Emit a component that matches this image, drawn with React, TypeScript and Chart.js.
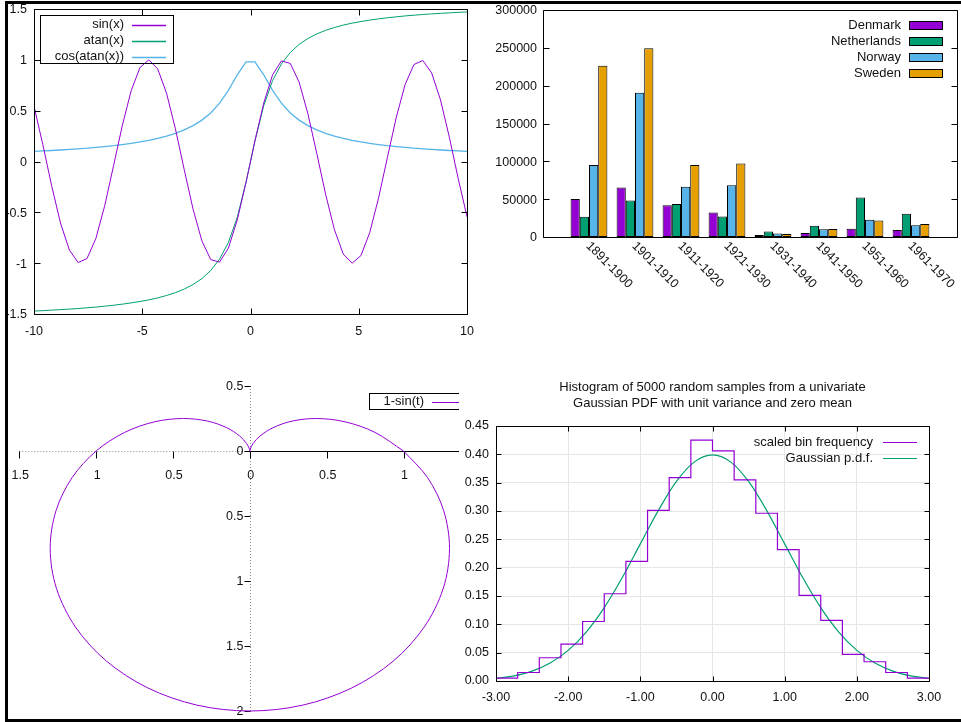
import React, { useEffect, useRef } from 'react';
import { Chart, registerables } from 'chart.js';

Chart.register(...registerables);

const FONT = '"Liberation Sans", Arial, Helvetica, sans-serif';
const TEXT = '#111111';
const PURPLE = '#9400d3';
const GREEN = '#009e73';
const SKY = '#56b4e9';
const ORANGE = '#e69f00';
const TICK_FONT = { family: FONT, size: 12.5 };
const KEY_FONT = `13px ${FONT}`;

// ---------- Panel 1: function plots (50 samples over [-10, 10]) ----------
const fnX = [-10, -9.592, -9.184, -8.776, -8.367, -7.959, -7.551, -7.143, -6.735, -6.327, -5.918, -5.51, -5.102, -4.694, -4.286, -3.878, -3.469, -3.061, -2.653, -2.245, -1.837, -1.429, -1.02, -0.612, -0.204, 0.204, 0.612, 1.02, 1.429, 1.837, 2.245, 2.653, 3.061, 3.469, 3.878, 4.286, 4.694, 5.102, 5.51, 5.918, 6.327, 6.735, 7.143, 7.551, 7.959, 8.367, 8.776, 9.184, 9.592, 10];
const sinY = [0.544, 0.166, -0.239, -0.605, -0.871, -0.994, -0.954, -0.758, -0.436, -0.043, 0.357, 0.698, 0.925, 1.0, 0.911, 0.672, 0.322, -0.08, -0.469, -0.781, -0.965, -0.99, -0.852, -0.575, -0.203, 0.203, 0.575, 0.852, 0.99, 0.965, 0.781, 0.469, 0.08, -0.322, -0.672, -0.911, -1.0, -0.925, -0.698, -0.357, 0.043, 0.436, 0.758, 0.954, 0.994, 0.871, 0.605, 0.239, -0.166, -0.544];
const atanY = [-1.471, -1.467, -1.462, -1.457, -1.452, -1.446, -1.439, -1.432, -1.423, -1.414, -1.403, -1.391, -1.377, -1.361, -1.342, -1.318, -1.29, -1.255, -1.21, -1.152, -1.072, -0.96, -0.796, -0.549, -0.201, 0.201, 0.549, 0.796, 0.96, 1.072, 1.152, 1.21, 1.255, 1.29, 1.318, 1.342, 1.361, 1.377, 1.391, 1.403, 1.414, 1.423, 1.432, 1.439, 1.446, 1.452, 1.457, 1.462, 1.467, 1.471];
const cosAtanY = [0.1, 0.104, 0.108, 0.113, 0.119, 0.125, 0.131, 0.139, 0.147, 0.156, 0.167, 0.179, 0.192, 0.208, 0.227, 0.25, 0.277, 0.311, 0.353, 0.407, 0.478, 0.574, 0.7, 0.853, 0.98, 0.98, 0.853, 0.7, 0.574, 0.478, 0.407, 0.353, 0.311, 0.277, 0.25, 0.227, 0.208, 0.192, 0.179, 0.167, 0.156, 0.147, 0.139, 0.131, 0.125, 0.119, 0.113, 0.108, 0.104, 0.1];
const fnLabels = ['sin(x)', 'atan(x)', 'cos(atan(x))'];

// ---------- Panel 2: immigration by decade ----------
const decades = ['1891-1900', '1901-1910', '1911-1920', '1921-1930', '1931-1940', '1941-1950', '1951-1960', '1961-1970'];
const denmark = [50231, 65285, 41983, 32430, 2559, 5393, 10984, 9201];
const netherlands = [26758, 48262, 43718, 26948, 7150, 14860, 52277, 30606];
const norway = [95015, 190505, 66395, 68531, 4740, 10100, 22935, 15484];
const sweden = [226266, 249534, 95074, 97249, 3960, 10665, 21697, 17116];

// ---------- Panel 3: polar cardioid r = 1 - sin(t), sampled every 10 degrees ----------
const cardioidX = [1, 0.8138, 0.6183, 0.433, 0.2736, 0.1504, 0.067, 0.0206, 0.0026, 0, -0.0026, -0.0206, -0.067, -0.1504, -0.2736, -0.433, -0.6183, -0.8138, -1, -1.1558, -1.2611, -1.299, -1.2585, -1.1352, -0.933, -0.6634, -0.3447, 0, 0.3447, 0.6634, 0.933, 1.1352, 1.2585, 1.299, 1.2611, 1.1558, 1];
const cardioidY = [0, 0.1435, 0.225, 0.25, 0.2296, 0.1792, 0.116, 0.0567, 0.015, 0, 0.015, 0.0567, 0.116, 0.1792, 0.2296, 0.25, 0.225, 0.1435, 0, -0.2038, -0.459, -0.75, -1.056, -1.3529, -1.616, -1.8227, -1.9547, -2, -1.9547, -1.8227, -1.616, -1.3529, -1.056, -0.75, -0.459, -0.2038, 0];
const polarXTicks = [-1.5, -1, -0.5, 0, 0.5, 1, 1.5];
const polarYTicks = [0.5, 0, -0.5, -1, -1.5, -2];

// ---------- Panel 4: histogram + Gaussian pdf ----------
const binEdges = [-3, -2.7, -2.4, -2.1, -1.8, -1.5, -1.2, -0.9, -0.6, -0.3, 0, 0.3, 0.6, 0.9, 1.2, 1.5, 1.8, 2.1, 2.4, 2.7, 3];
const binHeights = [0.005, 0.015, 0.041, 0.065, 0.105, 0.154, 0.211, 0.301, 0.359, 0.425, 0.406, 0.355, 0.296, 0.232, 0.151, 0.107, 0.047, 0.034, 0.015, 0.005];
const gaussX = [-3, -2.75, -2.5, -2.25, -2, -1.75, -1.5, -1.25, -1, -0.75, -0.5, -0.25, 0, 0.25, 0.5, 0.75, 1, 1.25, 1.5, 1.75, 2, 2.25, 2.5, 2.75, 3];
const gaussY = [0.0044, 0.0091, 0.0175, 0.0317, 0.054, 0.0863, 0.1295, 0.1826, 0.242, 0.3011, 0.3521, 0.3867, 0.3989, 0.3867, 0.3521, 0.3011, 0.242, 0.1826, 0.1295, 0.0863, 0.054, 0.0317, 0.0175, 0.0091, 0.0044];
const histTitle = ['Histogram of 5000 random samples from a univariate', 'Gaussian PDF with unit variance and zero mean'];

// ---------- helpers ----------
function drawBox(chart: any, len: number, xTicks: boolean, yTicks: boolean) {
  const { ctx, chartArea: a, scales } = chart;
  const L = Math.round(a.left) + 0.5, R = Math.round(a.right) + 0.5;
  const T = Math.round(a.top) + 0.5, B = Math.round(a.bottom) + 0.5;
  ctx.save();
  ctx.strokeStyle = '#000';
  ctx.lineWidth = 1;
  ctx.beginPath();
  ctx.rect(L, T, R - L, B - T);
  if (xTicks) {
    for (const t of scales.x.ticks) {
      const p = Math.round(scales.x.getPixelForValue(t.value)) + 0.5;
      ctx.moveTo(p, T); ctx.lineTo(p, T + len);
      ctx.moveTo(p, B); ctx.lineTo(p, B - len);
    }
  }
  if (yTicks) {
    for (const t of scales.y.ticks) {
      const p = Math.round(scales.y.getPixelForValue(t.value)) + 0.5;
      ctx.moveTo(L, p); ctx.lineTo(L + len, p);
      ctx.moveTo(R, p); ctx.lineTo(R - len, p);
    }
  }
  ctx.stroke();
  ctx.restore();
}

type KeyEntry = { label: string; color: string; box?: boolean; width?: number };
function drawKey(ctx: any, entries: KeyEntry[], textRight: number, sL: number, sR: number, y0: number, dy: number, boxH = 8) {
  entries.forEach((e, i) => {
    const y = y0 + i * dy;
    ctx.save();
    ctx.font = KEY_FONT;
    ctx.textAlign = 'right';
    ctx.textBaseline = 'middle';
    ctx.fillStyle = TEXT;
    ctx.fillText(e.label, textRight, y);
    ctx.restore();
    ctx.save();
    if (e.box) {
      const ry = Math.round(y - boxH / 2);
      ctx.fillStyle = e.color;
      ctx.fillRect(sL, ry, sR - sL, boxH);
      ctx.strokeStyle = '#000000';
      ctx.lineWidth = 1;
      ctx.strokeRect(sL + 0.5, ry + 0.5, sR - sL - 1, boxH - 1);
    } else {
      ctx.strokeStyle = e.color;
      ctx.lineWidth = e.width || 1;
      ctx.beginPath();
      ctx.moveTo(sL, Math.round(y) + 0.5);
      ctx.lineTo(sR, Math.round(y) + 0.5);
      ctx.stroke();
    }
    ctx.restore();
  });
}

const plainNumber = (v: any) => String(Math.round(Number(v) * 1000) / 1000);

const baseOptions = {
  responsive: false,
  animation: false,
  devicePixelRatio: 1,
  events: [],
};

// ---------- chart configs ----------
function makeFunctions(): any {
  const colors = [PURPLE, GREEN, SKY];
  const series = [sinY, atanY, cosAtanY];
  const widths = [1, 1, 1.3];
  return {
    type: 'line',
    data: {
      datasets: fnLabels.map((label, k) => ({
        label,
        data: fnX.map((x, i) => ({ x, y: series[k][i] })),
        borderColor: colors[k], borderWidth: widths[k], pointRadius: 0, tension: 0, fill: false,
      })),
    },
    options: {
      ...baseOptions,
      layout: { padding: { left: 0, top: 9, right: 13, bottom: 6 } },
      plugins: { legend: { display: false }, tooltip: { enabled: false } },
      scales: {
        x: {
          type: 'linear', min: -10, max: 10,
          ticks: { stepSize: 5, padding: 0, color: TEXT, font: TICK_FONT, callback: plainNumber },
          grid: { display: false, drawTicks: true, tickLength: 10.5 }, border: { display: false },
          afterFit: (s: any) => { s.height = 25; },
        },
        y: {
          type: 'linear', min: -1.5, max: 1.5,
          ticks: { stepSize: 0.5, padding: 0, labelOffset: 1, color: TEXT, font: TICK_FONT, callback: plainNumber },
          grid: { display: false, drawTicks: true, tickLength: 7 }, border: { display: false },
          afterFit: (s: any) => { s.width = 34; },
        },
      },
    },
    plugins: [{
      id: 'fnDeco',
      afterDraw(chart: any) {
        drawBox(chart, 6, true, true);
        const ctx = chart.ctx;
        ctx.save();
        ctx.strokeStyle = '#000';
        ctx.lineWidth = 1;
        ctx.strokeRect(40.5, 15.5, 133, 48);
        ctx.restore();
        const entries = fnLabels.map((label, k) => ({ label, color: colors[k], width: 1.3 }));
        drawKey(ctx, entries, 124, 132, 166, 24.5, 16);
      },
    }],
  };
}

function makeBars(): any {
  const slots = ['', ...decades, ''];
  const pad = (arr: number[]) => [null, ...arr, null];
  const ds = (label: string, arr: number[], color: string) => ({
    label, data: pad(arr), backgroundColor: color, borderColor: '#000', borderWidth: 1,
    borderSkipped: false, categoryPercentage: 0.8, barPercentage: 1,
  });
  return {
    type: 'bar',
    data: {
      labels: slots,
      datasets: [ds('Denmark', denmark, PURPLE), ds('Netherlands', netherlands, GREEN), ds('Norway', norway, SKY), ds('Sweden', sweden, ORANGE)],
    },
    options: {
      ...baseOptions,
      layout: { padding: { left: 0, top: 10, right: 4, bottom: 63 } },
      plugins: { legend: { display: false }, tooltip: { enabled: false } },
      scales: {
        x: { type: 'category', offset: false, display: false, grid: { display: false } },
        y: {
          min: 0, max: 300000,
          ticks: { stepSize: 50000, padding: 0, labelOffset: 1, color: TEXT, font: TICK_FONT, callback: (v: any) => String(v) },
          grid: { display: false, drawTicks: true, tickLength: 6 }, border: { display: false },
          afterFit: (s: any) => { s.width = 63; },
        },
      },
    },
    plugins: [{
      id: 'barDeco',
      afterDraw(chart: any) {
        drawBox(chart, 6, false, true);
        const { ctx, chartArea: a, scales } = chart;
        ctx.save();
        ctx.font = `12.5px ${FONT}`;
        ctx.fillStyle = TEXT;
        ctx.textAlign = 'left';
        ctx.textBaseline = 'middle';
        decades.forEach((d, i) => {
          const px = scales.x.getPixelForValue(i + 1);
          ctx.save();
          ctx.translate(px - 1, a.bottom + 7);
          ctx.rotate(Math.PI / 4);
          ctx.fillText(d, 0, 0);
          ctx.restore();
        });
        ctx.restore();
        const entries = chart.data.datasets.map((d: any) => ({ label: d.label, color: d.backgroundColor, box: true }));
        drawKey(ctx, entries, 421, 429, 463, 25, 16, 9);
      },
    }],
  };
}

function makePolar(): any {
  return {
    type: 'line',
    data: {
      datasets: [{
        label: '1-sin(t)',
        data: cardioidX.map((x, i) => ({ x, y: cardioidY[i] })),
        borderColor: PURPLE, borderWidth: 1, pointRadius: 0, tension: 0.33,
        capBezierPoints: false, clip: 6, fill: false,
      }],
    },
    options: {
      ...baseOptions,
      layout: { padding: { left: 11.3, top: 14, right: 7.6, bottom: 7 } },
      plugins: { legend: { display: false }, tooltip: { enabled: false } },
      scales: {
        x: { type: 'linear', min: -1.5, max: 1.5, display: false },
        y: { type: 'linear', min: -2, max: 0.5, display: false },
      },
    },
    plugins: [{
      id: 'polarDeco',
      beforeDatasetsDraw(chart: any) {
        const { ctx, scales: { x, y } } = chart;
        const x0 = Math.round(x.getPixelForValue(0)) + 0.5;
        const y0 = Math.round(y.getPixelForValue(0)) + 0.5;
        const xl = x.getPixelForValue(polarXTicks[0]);
        const xr = x.getPixelForValue(polarXTicks[polarXTicks.length - 1]);
        const yt = y.getPixelForValue(polarYTicks[0]);
        const yb = y.getPixelForValue(polarYTicks[polarYTicks.length - 1]);
        ctx.save();
        ctx.lineWidth = 1;
        ctx.strokeStyle = '#8a8a8a';
        ctx.setLineDash([1, 2]);
        ctx.beginPath();
        ctx.moveTo(xl, y0); ctx.lineTo(x0, y0);
        ctx.moveTo(x0, yt); ctx.lineTo(x0, yb);
        ctx.stroke();
        ctx.setLineDash([]);
        ctx.strokeStyle = '#000';
        ctx.beginPath();
        ctx.moveTo(x0, y0); ctx.lineTo(xr, y0);
        for (const v of polarXTicks) {
          const p = Math.round(x.getPixelForValue(v)) + 0.5;
          ctx.moveTo(p, y0); ctx.lineTo(p, y0 + 7);
        }
        for (const v of polarYTicks) {
          const p = Math.round(y.getPixelForValue(v)) + 0.5;
          ctx.moveTo(x0 - 6, p); ctx.lineTo(x0, p);
        }
        ctx.stroke();
        ctx.font = `12.5px ${FONT}`;
        ctx.fillStyle = TEXT;
        ctx.textBaseline = 'middle';
        ctx.textAlign = 'center';
        for (const v of polarXTicks) {
          ctx.fillText(String(Math.abs(v)), x.getPixelForValue(v) + 1, y0 + 24);
        }
        ctx.textAlign = 'right';
        for (const v of polarYTicks) {
          ctx.fillText(String(Math.abs(v)), x0 - 7, y.getPixelForValue(v) + 1);
        }
        ctx.restore();
      },
      afterDraw(chart: any) {
        const ctx = chart.ctx;
        ctx.save();
        ctx.strokeStyle = '#000';
        ctx.lineWidth = 1;
        ctx.strokeRect(361.5, 21.5, 120, 16);
        ctx.restore();
        const d = chart.data.datasets[0];
        drawKey(ctx, [{ label: d.label, color: PURPLE, width: 1.2 }], 416, 424, 480, 29.5, 16);
      },
    }],
  };
}

function makeHistogram(): any {
  const hist = binEdges.map((x, i) => ({ x, y: binHeights[Math.min(i, binHeights.length - 1)] }));
  const gauss = gaussX.map((x, i) => ({ x, y: gaussY[i] }));
  return {
    type: 'line',
    data: {
      datasets: [
        { label: 'scaled bin frequency', data: hist, stepped: true, borderColor: PURPLE, borderWidth: 1.2, pointRadius: 0, fill: false },
        { label: 'Gaussian p.d.f.', data: gauss, cubicInterpolationMode: 'monotone', borderColor: GREEN, borderWidth: 1.2, pointRadius: 0, fill: false },
      ],
    },
    options: {
      ...baseOptions,
      layout: { padding: { left: 0, top: 0, right: 32, bottom: 7 } },
      plugins: {
        legend: { display: false }, tooltip: { enabled: false },
        title: {
          display: true, fullSize: false, text: histTitle, color: TEXT,
          font: { family: FONT, size: 13, weight: 'normal', lineHeight: 16 / 13 },
          padding: { top: 9, bottom: 15 },
        },
      },
      scales: {
        x: {
          type: 'linear', min: -3, max: 3,
          ticks: { stepSize: 1, padding: 9.5, color: TEXT, font: TICK_FONT, callback: (v: any) => Number(v).toFixed(2) },
          grid: { color: '#e6e6e6', drawTicks: false }, border: { display: false },
          afterFit: (s: any) => { s.height = 30; },
        },
        y: {
          type: 'linear', min: 0, max: 0.45,
          ticks: { stepSize: 0.05, padding: 7, color: TEXT, font: TICK_FONT, callback: (v: any) => Number(v).toFixed(2) },
          grid: { color: '#e6e6e6', drawTicks: false }, border: { display: false },
          afterFit: (s: any) => { s.width = 37; },
        },
      },
    },
    plugins: [{
      id: 'histDeco',
      afterDraw(chart: any) {
        drawBox(chart, 5, true, true);
        const entries = [
          { label: 'scaled bin frequency', color: PURPLE, width: 1.2 },
          { label: 'Gaussian p.d.f.', color: GREEN, width: 1.2 },
        ];
        drawKey(chart.ctx, entries, 414, 424, 458, 72, 16);
      },
    }],
  };
}

function ChartPanel(props: { left: number; top: number; width: number; height: number; make: () => any; bg?: string }) {
  const ref = useRef<HTMLCanvasElement | null>(null);
  useEffect(() => {
    const chart = new Chart(ref.current as HTMLCanvasElement, props.make());
    return () => chart.destroy();
  }, []);
  return (
    <div style={{ position: 'absolute', left: props.left, top: props.top, width: props.width, height: props.height, background: props.bg || 'transparent' }}>
      <canvas ref={ref} width={props.width} height={props.height} style={{ display: 'block', width: props.width, height: props.height }} />
    </div>
  );
}

export default function App() {
  return (
    <div style={{ position: 'fixed', left: 0, top: 0, width: 961, height: 722, overflow: 'hidden', background: '#fff' }}>
      <ChartPanel left={0} top={0} width={480} height={345} make={makeFunctions} />
      <ChartPanel left={480} top={0} width={481} height={300} make={makeBars} />
      <ChartPanel left={8} top={372} width={480} height={346} make={makePolar} />
      <ChartPanel left={459} top={370} width={502} height={348} make={makeHistogram} bg="#ffffff" />
      <div style={{ position: 'absolute', left: 5, top: 1, width: 1000, height: 721, boxSizing: 'border-box', border: '3px solid #000', pointerEvents: 'none' }} />
    </div>
  );
}
